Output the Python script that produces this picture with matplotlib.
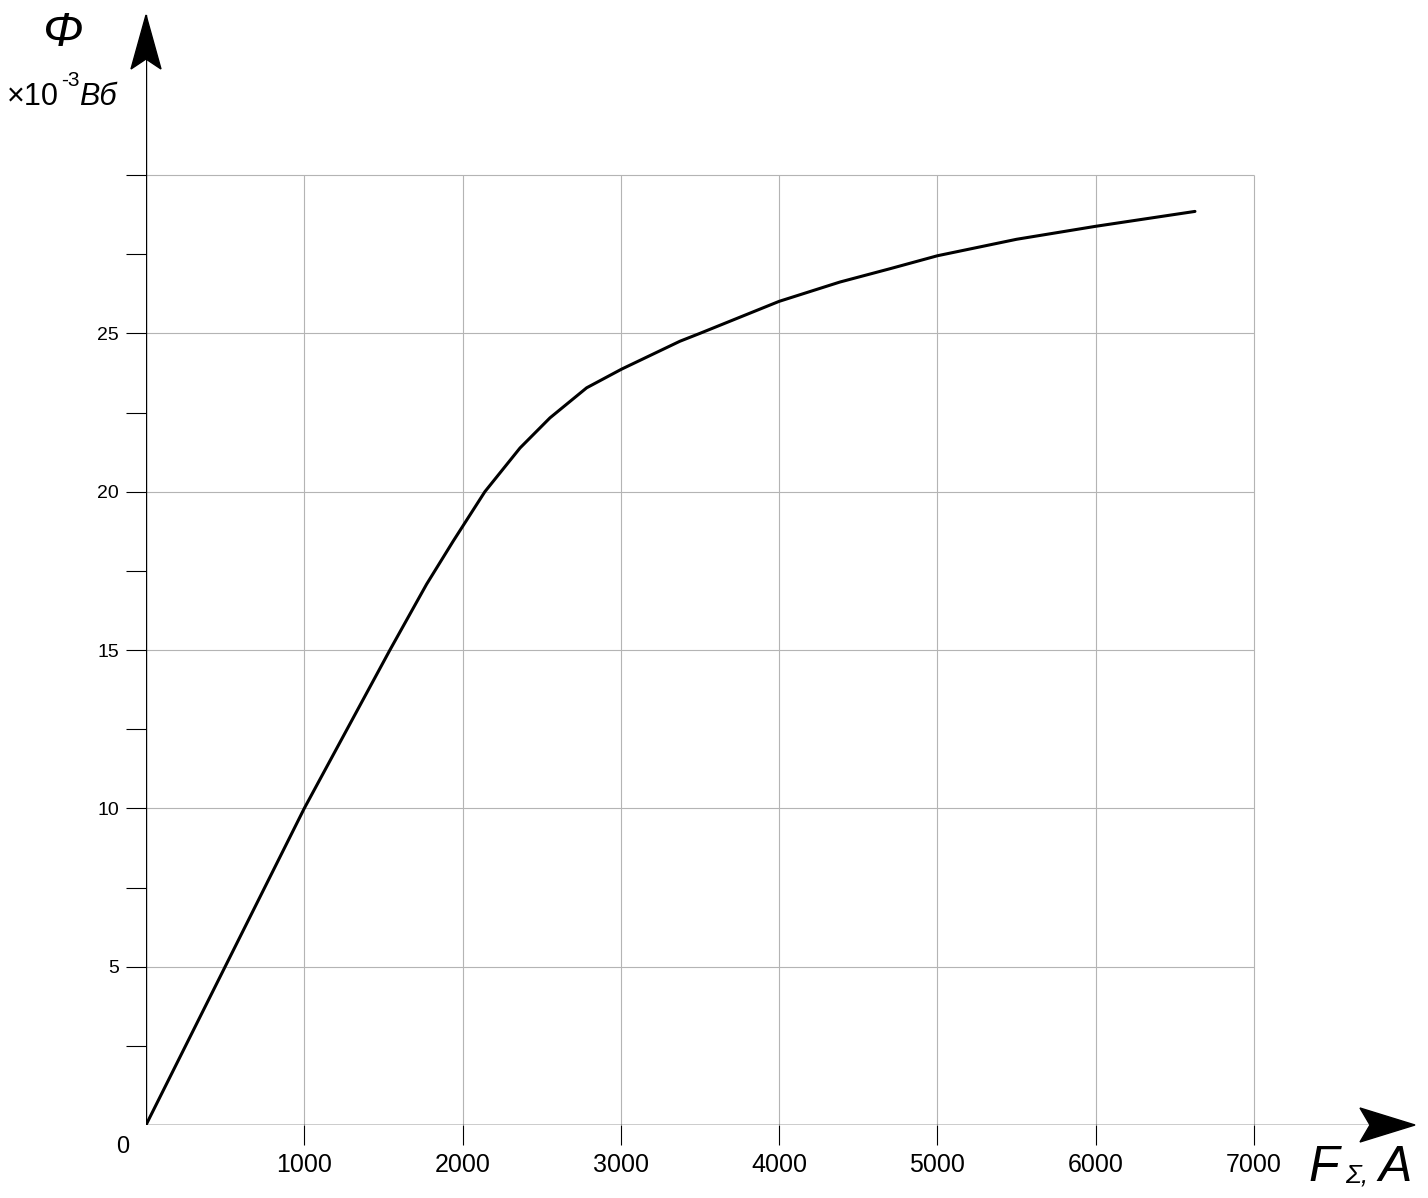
import matplotlib
matplotlib.use("Agg")
import matplotlib.pyplot as plt
from matplotlib.patches import Polygon

plt.rcParams['font.family'] = ['Liberation Sans', 'DejaVu Sans']

# magnetisation curve
F_vals = [0, 500, 1000, 1541, 1773, 1941, 2141, 2363, 2552, 2784, 3005, 3373,
          3500, 4000, 4384, 4700, 5000, 5500, 6000, 6627]
phi_vals = [0, 5.0, 10.0, 15.0, 17.08, 18.44, 20.0, 21.38, 22.33, 23.28, 23.87,
            24.75, 25.0, 26.01, 26.62, 27.04, 27.45, 27.97, 28.38, 28.85]

x_ticks = [1000, 2000, 3000, 4000, 5000, 6000, 7000]
y_ticks = [2.5, 5, 7.5, 10, 12.5, 15, 17.5, 20, 22.5, 25, 27.5, 30]
y_labels = ['', '5', '', '10', '', '15', '', '20', '', '25', '', '']
y_grid = [5, 10, 15, 20, 25, 30]

W, H = 1428, 1198
fig = plt.figure(figsize=(W / 100, H / 100), dpi=100)


def fx(px):
    return px / W


def fy(py):
    return 1 - py / H


# axes: origin at pixel (146, 1125), arrow tips at x=1415 / y=15
ax = fig.add_axes([fx(146), fy(1125), (1415 - 146) / W, (1125 - 15) / H])
ax.set_xlim(0, 7000 * 1269 / 1108)
ax.set_ylim(0, 30 * 1110 / 950)
for s in ax.spines.values():
    s.set_visible(False)

grid_c = '#b4b4b4'
ax.vlines(x_ticks, 0, 30, color=grid_c, lw=0.8, zorder=1)
ax.hlines(y_grid, 0, 7000, color=grid_c, lw=0.8, zorder=1)

ax.axhline(0, color='black', lw=1.0, zorder=3)
ax.axvline(0, color='black', lw=1.0, zorder=3)

ax.plot(F_vals, phi_vals, color='black', lw=2.2, zorder=4,
        solid_capstyle='round', solid_joinstyle='round')

ax.set_xticks(x_ticks)
ax.set_xticklabels([str(v) for v in x_ticks], fontsize=18)
ax.set_yticks(y_ticks)
ax.set_yticklabels(y_labels, fontsize=14)
ax.tick_params(axis='x', length=14.4, width=0.8, color='black', pad=6)
ax.tick_params(axis='y', length=14.4, width=0.8, color='black', pad=5)

# arrow heads
fig.patches.append(Polygon([(fx(146), fy(15)), (fx(131), fy(69)), (fx(146), fy(59)),
                            (fx(161), fy(69))], closed=True, color='black',
                           transform=fig.transFigure, figure=fig))
fig.patches.append(Polygon([(fx(1415), fy(1125)), (fx(1360), fy(1108)), (fx(1370), fy(1125)),
                            (fx(1360), fy(1142))], closed=True, color='black',
                           transform=fig.transFigure, figure=fig))

# labels
fig.text(fx(123), fy(1147), '0', fontsize=17, ha='center', va='center')
fig.text(fx(63), fy(33), 'Φ', fontsize=35, style='italic', ha='center', va='center')
fig.text(fx(7), fy(97), '×10', fontsize=22, ha='left', va='center')
fig.text(fx(61), fy(81), '-3', fontsize=15, ha='left', va='center')
fig.text(fx(79), fy(97), 'Вб', fontsize=22, style='italic', ha='left', va='center')
fig.text(fx(1308), fy(1168), 'F', fontsize=36, style='italic', ha='left', va='center')
fig.text(fx(1345), fy(1176), 'Σ,', fontsize=19, style='italic', ha='left', va='center')
fig.text(fx(1378), fy(1168), 'A', fontsize=36, style='italic', ha='left', va='center')

fig.savefig('out.png', dpi=100)
